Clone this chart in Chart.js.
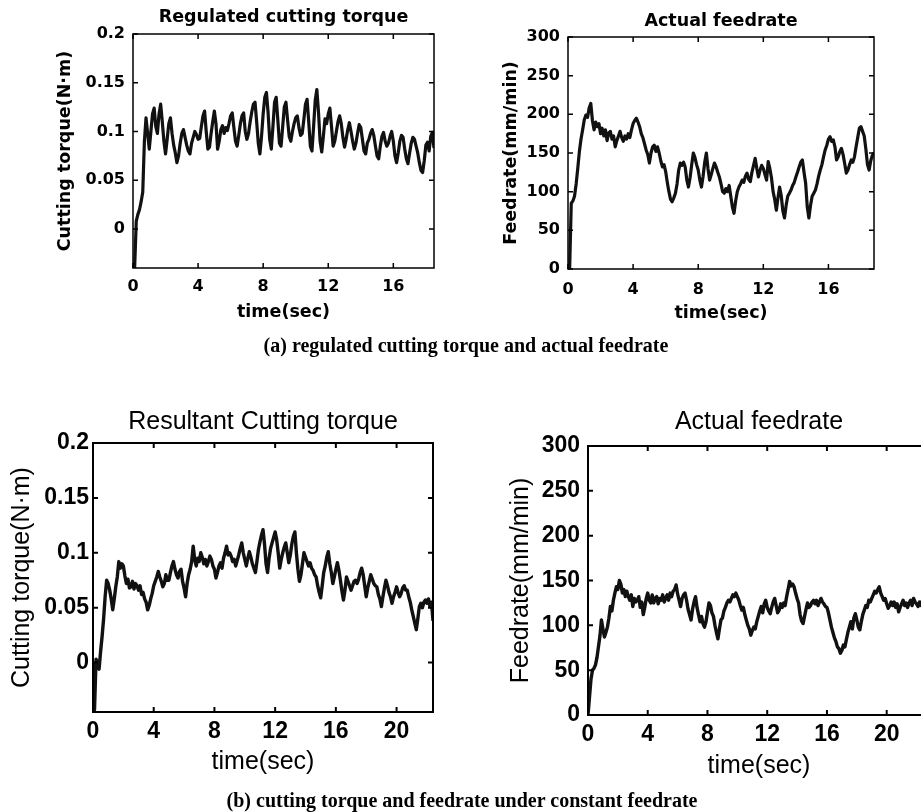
<!DOCTYPE html>
<html>
<head>
<meta charset="utf-8">
<script src="https://cdn.jsdelivr.net/npm/chart.js@4.4.1/dist/chart.umd.min.js"></script>
<style>
  html, body { margin: 0; padding: 0; background: #fff; }
  body { width: 921px; height: 812px; position: relative; overflow: hidden; }
  canvas { position: absolute; }
  .caption { position: absolute; font: bold 20px 'Liberation Serif', 'Times New Roman', serif; color: #000; white-space: nowrap; transform: translate(-50%, -50%); }
</style>
</head>
<body>
<canvas id="cA" width="460" height="340" style="left:0;top:0"></canvas>
<canvas id="cB" width="461" height="340" style="left:460px;top:0"></canvas>
<canvas id="cC" width="460" height="400" style="left:0;top:390px"></canvas>
<canvas id="cD" width="480" height="400" style="left:460px;top:390px"></canvas>
<div class="caption" style="left:466px;top:345px">(a) regulated cutting torque and actual feedrate</div>
<div class="caption" style="left:462px;top:800px">(b) cutting torque and feedrate under constant feedrate</div>
<script>
// sampling step of the recorded traces (sec)
const DT = 0.1;

// (a) regulated cutting torque, N·m, t = 0 .. 18.5 s
const torqueRegulated = [
  -0.04, -0.04, 0.008, 0.015, 0.02, 0.028, 0.038, 0.09, 0.114, 0.098,
  0.082, 0.1, 0.118, 0.124, 0.105, 0.098, 0.118, 0.128, 0.11, 0.09,
  0.077, 0.092, 0.108, 0.114, 0.098, 0.086, 0.078, 0.068, 0.075, 0.088,
  0.098, 0.102, 0.094, 0.086, 0.08, 0.077, 0.088, 0.094, 0.1, 0.097,
  0.092, 0.093, 0.105, 0.116, 0.121, 0.1, 0.082, 0.084, 0.098, 0.11,
  0.121, 0.108, 0.082, 0.09, 0.102, 0.106, 0.098, 0.104, 0.101, 0.108,
  0.116, 0.119, 0.104, 0.09, 0.085, 0.096, 0.108, 0.116, 0.119, 0.1,
  0.092, 0.098, 0.11, 0.12, 0.128, 0.13, 0.11, 0.088, 0.077, 0.095,
  0.118, 0.135, 0.14, 0.12, 0.092, 0.082, 0.105, 0.13, 0.135, 0.112,
  0.088, 0.085, 0.105, 0.125, 0.13, 0.112, 0.095, 0.09, 0.1, 0.108,
  0.114, 0.116, 0.104, 0.096, 0.098, 0.112, 0.128, 0.133, 0.11, 0.085,
  0.08, 0.105, 0.132, 0.143, 0.12, 0.09, 0.079, 0.095, 0.113, 0.108,
  0.118, 0.124, 0.105, 0.085, 0.09, 0.1, 0.11, 0.116, 0.108, 0.094,
  0.084, 0.092, 0.102, 0.109, 0.1, 0.09, 0.082, 0.088, 0.098, 0.107,
  0.104, 0.092, 0.08, 0.077, 0.088, 0.092, 0.098, 0.102, 0.096, 0.085,
  0.075, 0.072, 0.085, 0.095, 0.099, 0.09, 0.085, 0.088, 0.095, 0.1,
  0.09, 0.075, 0.068, 0.078, 0.09, 0.096, 0.094, 0.082, 0.072, 0.067,
  0.078, 0.088, 0.094, 0.092, 0.085, 0.078, 0.068, 0.06, 0.058, 0.07,
  0.086, 0.089, 0.08, 0.095, 0.099, 0.083
];

// (a) actual feedrate, mm/min, t = 0 .. 18.8 s
const feedRegulated = [
  0, 0, 85, 88, 94, 110, 130, 152, 168, 180,
  193, 199, 196, 208, 214, 192, 180, 190, 184, 188,
  175, 182, 172, 180, 166, 176, 178, 168, 172, 158,
  166, 172, 178, 170, 165, 172, 168, 175, 170, 180,
  188, 192, 195, 190, 184, 175, 170, 162, 154, 148,
  137, 150, 158, 160, 152, 158, 150, 140, 132, 135,
  126, 112, 100, 90, 87, 92, 98, 110, 128, 137,
  134, 138, 132, 115, 106, 118, 135, 150, 144, 135,
  128, 115, 106, 120, 138, 150, 130, 115, 122, 130,
  137, 132, 125, 119, 110, 100, 98, 104, 100, 108,
  94, 80, 72, 88, 100, 106, 110, 115, 112, 120,
  124, 116, 113, 125, 134, 143, 130, 119, 128, 134,
  130, 122, 115, 139, 130, 118, 100, 90, 76, 92,
  106, 95, 75, 66, 82, 94, 98, 102, 108, 112,
  119, 125, 132, 138, 141, 125, 111, 80, 66, 82,
  94, 98, 102, 110, 120, 128, 135, 145, 154, 160,
  168, 171, 165, 167, 158, 141, 145, 152, 156, 148,
  136, 124, 128, 135, 141, 138, 145, 158, 170, 182,
  184, 178, 172, 155, 135, 128, 140, 147, 150
];

// (b) resultant cutting torque, N·m, t = 0 .. 22.4 s
const torqueConstant = [
  0.0, -0.043, 0.003, 0.0, -0.006, 0.01, 0.024, 0.04, 0.06, 0.075,
  0.072, 0.066, 0.058, 0.048, 0.058, 0.069, 0.078, 0.092, 0.086, 0.09,
  0.088, 0.079, 0.072, 0.076, 0.068, 0.069, 0.074, 0.067, 0.072, 0.07,
  0.066, 0.07, 0.062, 0.064, 0.058, 0.055, 0.048, 0.052, 0.058, 0.063,
  0.07, 0.074, 0.078, 0.083, 0.078, 0.074, 0.069, 0.072, 0.08, 0.075,
  0.075, 0.082, 0.088, 0.092, 0.085, 0.08, 0.077, 0.083, 0.085, 0.074,
  0.068, 0.06, 0.072, 0.08, 0.085, 0.092, 0.106, 0.094, 0.088, 0.095,
  0.092, 0.1, 0.096, 0.09, 0.094, 0.088, 0.092, 0.097, 0.094, 0.088,
  0.085, 0.077, 0.082, 0.088, 0.091, 0.086, 0.095, 0.1, 0.106, 0.098,
  0.1, 0.097, 0.092, 0.094, 0.088, 0.093, 0.098, 0.104, 0.109, 0.1,
  0.094, 0.088, 0.095, 0.101, 0.096, 0.09, 0.086, 0.082, 0.092, 0.103,
  0.11, 0.116, 0.121, 0.108, 0.09, 0.082, 0.095, 0.104, 0.109, 0.114,
  0.119, 0.112, 0.1, 0.086, 0.094, 0.1, 0.105, 0.109, 0.1, 0.091,
  0.098, 0.108, 0.115, 0.119, 0.1, 0.085, 0.074, 0.08, 0.09, 0.1,
  0.096, 0.092, 0.088, 0.091, 0.086, 0.084, 0.08, 0.078, 0.07, 0.064,
  0.059, 0.07, 0.082, 0.088, 0.096, 0.101, 0.09, 0.082, 0.072, 0.078,
  0.085, 0.091, 0.084, 0.075, 0.065, 0.057, 0.066, 0.078, 0.074, 0.07,
  0.066, 0.07, 0.074, 0.075, 0.072, 0.076, 0.082, 0.086, 0.08, 0.07,
  0.06, 0.068, 0.074, 0.08, 0.076, 0.072, 0.07, 0.069, 0.062, 0.058,
  0.051, 0.06, 0.068, 0.075, 0.07, 0.064, 0.06, 0.054, 0.06, 0.064,
  0.069, 0.064, 0.06, 0.063, 0.068, 0.07, 0.066, 0.066, 0.06, 0.055,
  0.048, 0.042, 0.036, 0.03, 0.04, 0.051, 0.054, 0.05, 0.055, 0.057,
  0.054, 0.058, 0.051, 0.055, 0.038
];

// (b) actual feedrate, mm/min, t = 0 .. 22.5 s
const feedConstant = [
  0, 20, 40, 50, 52, 56, 64, 76, 88, 106,
  96, 87, 92, 98, 108, 121, 116, 128, 136, 143,
  140, 150, 146, 136, 140, 132, 138, 132, 128, 134,
  121, 130, 126, 128, 132, 120, 126, 112, 120, 130,
  136, 128, 125, 134, 125, 130, 132, 124, 130, 128,
  134, 126, 130, 134, 128, 136, 132, 138, 140, 145,
  135, 128, 121, 130, 134, 136, 128, 118, 112, 106,
  118, 126, 132, 120, 112, 104, 110, 102, 98, 104,
  115, 125, 122, 114, 110, 100, 92, 85, 96, 106,
  108, 116, 120, 125, 128, 126, 130, 134, 132, 136,
  132, 128, 122, 117, 120, 112, 106, 100, 96, 89,
  94, 98, 96, 104, 110, 116, 121, 114, 124, 128,
  120, 116, 113, 120, 126, 130, 122, 114, 117, 124,
  120, 125, 122, 132, 140, 149, 144, 146, 143, 136,
  130, 125, 112, 105, 102, 110, 118, 125, 120, 122,
  126, 128, 124, 128, 122, 126, 130, 126, 124, 121,
  120, 114, 106, 98, 92, 86, 82, 76, 74, 69,
  72, 78, 76, 84, 92, 98, 104, 96, 108, 113,
  106, 98, 95, 104, 112, 117, 122, 120, 128, 126,
  130, 134, 138, 136, 140, 143, 136, 132, 128, 130,
  124, 119, 122, 126, 122, 126, 120, 124, 115, 120,
  124, 128, 122, 125, 120, 125, 128, 122, 130, 126,
  124, 121, 126, 122, 128, 124
];

// tick labels
const timeTicksA = [0, 4, 8, 12, 16];
const timeTicksB = [0, 4, 8, 12, 16, 20];
const torqueTicks = [0, 0.05, 0.1, 0.15, 0.2];
const feedTicks = [0, 50, 100, 150, 200, 250, 300];

// MATLAB-like frame: full box with inward tick marks on all four sides
const boxTicks = {
  id: 'boxTicks',
  afterDatasetsDraw(chart, args, opts) {
    const { ctx, chartArea: a, scales: { x, y } } = chart;
    const len = opts.len || 5;
    ctx.save();
    ctx.strokeStyle = '#000';
    ctx.lineWidth = opts.width || 1.5;
    ctx.beginPath();
    x.ticks.forEach(t => {
      const px = x.getPixelForValue(t.value);
      ctx.moveTo(px, a.bottom); ctx.lineTo(px, a.bottom - len);
      ctx.moveTo(px, a.top); ctx.lineTo(px, a.top + len);
    });
    y.ticks.forEach(t => {
      const py = y.getPixelForValue(t.value);
      ctx.moveTo(a.left, py); ctx.lineTo(a.left + len, py);
      ctx.moveTo(a.right, py); ctx.lineTo(a.right - len, py);
    });
    ctx.stroke();
    ctx.strokeRect(a.left, a.top, a.right - a.left, a.bottom - a.top);
    ctx.restore();
  }
};

function series(values){ return values.map((v, i) => ({ x: Math.round(i * DT * 10) / 10, y: v })); }

// p: layout numbers for one panel (canvas pixels)
function makeChart(id, p){
  const titleLH = p.titleSize * 1.2;
  const axisLH = p.axisSize * 1.2;
  const fam = p.family;
  return new Chart(document.getElementById(id), {
    type: 'line',
    data: { datasets: [{ data: series(p.values), borderColor: '#111', borderWidth: p.lineWidth, pointRadius: 0, tension: 0, borderJoinStyle: 'round' }] },
    options: {
      responsive: false, animation: false, events: [],
      layout: { padding: { left: p.yTitleX - axisLH / 2, right: p.padRight, top: 0, bottom: p.canvasH - (p.xTitleY + axisLH / 2) } },
      plugins: {
        legend: { display: false },
        tooltip: { enabled: false },
        title: {
          display: true, text: p.title, color: '#000', fullSize: false,
          font: { family: fam, size: p.titleSize, weight: p.titleWeight, lineHeight: 1.2 },
          padding: { top: p.titleY - titleLH / 2, bottom: p.areaTop - p.titleY - titleLH / 2 }
        },
        boxTicks: { len: p.tickLen, width: p.frameWidth }
      },
      scales: {
        x: {
          type: 'linear', min: 0, max: p.xMax,
          grid: { display: false, drawTicks: false }, border: { display: false },
          afterBuildTicks: s => { s.ticks = p.xTicks.map(v => ({ value: v })); },
          afterFit: s => { s.height = p.xTitleY + axisLH / 2 - p.areaBottom; },
          ticks: { color: '#000', padding: p.xTickPad, maxRotation: 0, autoSkip: false,
                   font: { family: fam, size: p.tickSize, weight: 'bold', lineHeight: 1.2 },
                   callback: v => String(v) },
          title: { display: true, text: 'time(sec)', color: '#000', padding: 0,
                   font: { family: fam, size: p.axisSize, weight: p.titleWeight, lineHeight: 1.2 } }
        },
        y: {
          min: p.yMin, max: p.yMax,
          grid: { display: false, drawTicks: false }, border: { display: false },
          afterBuildTicks: s => { s.ticks = p.yTicks.map(v => ({ value: v })); },
          afterFit: s => { s.width = p.areaLeft - (p.yTitleX - axisLH / 2); },
          ticks: { color: '#000', padding: p.yTickPad, autoSkip: false,
                   font: { family: fam, size: p.tickSize, weight: 'bold', lineHeight: 1.2 },
                   callback: v => String(v) },
          title: { display: true, text: p.yLabel, color: '#000', padding: 0,
                   font: { family: fam, size: p.axisSize, weight: p.titleWeight, lineHeight: 1.2 } }
        }
      }
    },
    plugins: [boxTicks]
  });
}

const topStyle = { family: "'DejaVu Sans', sans-serif", titleSize: 17.5, axisSize: 17.5, tickSize: 16, titleWeight: 'bold', lineWidth: 3.2, tickLen: 5, frameWidth: 1.5, canvasH: 340 };
const botStyle = { family: "'Liberation Sans', Arial, sans-serif", titleSize: 25, axisSize: 25, tickSize: 23, titleWeight: 'normal', lineWidth: 3.4, tickLen: 5, frameWidth: 2, canvasH: 400 };

makeChart('cA', Object.assign({}, topStyle, {
  values: torqueRegulated, title: 'Regulated cutting torque', yLabel: 'Cutting torque(N·m)',
  xMax: 18.5, yMin: -0.04, yMax: 0.2, xTicks: timeTicksA, yTicks: torqueTicks,
  areaLeft: 133, areaTop: 34, areaBottom: 268, padRight: 26,
  titleY: 17, yTitleX: 65, xTitleY: 312, xTickPad: 9.4, yTickPad: 8
}));

makeChart('cB', Object.assign({}, topStyle, {
  values: feedRegulated, title: 'Actual feedrate', yLabel: 'Feedrate(mm/min)',
  xMax: 18.8, yMin: 0, yMax: 300, xTicks: timeTicksA, yTicks: feedTicks,
  areaLeft: 108, areaTop: 37, areaBottom: 269, padRight: 47,
  titleY: 21, yTitleX: 51, xTitleY: 313, xTickPad: 11.4, yTickPad: 8
}));

makeChart('cC', Object.assign({}, botStyle, {
  values: torqueConstant, title: 'Resultant Cutting torque', yLabel: 'Cutting torque(N·m)',
  xMax: 22.4, yMin: -0.045, yMax: 0.2, xTicks: timeTicksB, yTicks: torqueTicks,
  areaLeft: 93, areaTop: 53, areaBottom: 322, padRight: 27,
  titleY: 32, yTitleX: 22, xTitleY: 372, xTickPad: 6.2, yTickPad: 4
}));

// the right-hand panel runs past the page edge, as in the scanned figure
makeChart('cD', Object.assign({}, botStyle, {
  values: feedConstant, title: 'Actual feedrate', yLabel: 'Feedrate(mm/min)',
  xMax: 22.9, yMin: 0, yMax: 300, xTicks: timeTicksB, yTicks: feedTicks,
  areaLeft: 128, areaTop: 56, areaBottom: 325, padRight: 10,
  titleY: 32, yTitleX: 61, xTitleY: 376, xTickPad: 6.2, yTickPad: 8
}));
</script>
</body>
</html>
